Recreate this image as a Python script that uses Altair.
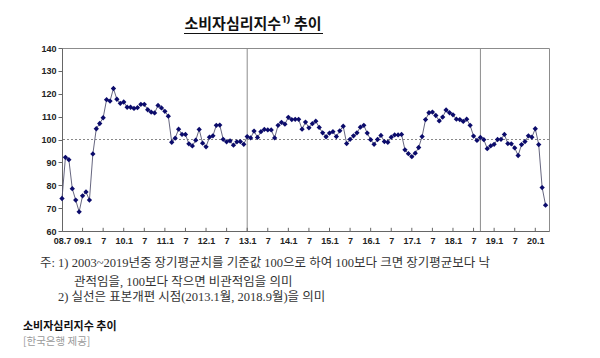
import altair as alt
import pandas as pd

# Monthly consumer sentiment index, 2008.7 ~ 2020.4
values = [
    74.2, 92.2, 91.2, 78.5, 73.5, 68.4,                                   # 2008.7-12
    75.4, 77.1, 73.5, 93.7, 104.7, 107.0, 109.5, 117.4, 116.8, 122.3, 117.6, 115.8,  # 2009
    116.4, 114.1, 114.1, 113.6, 113.9, 115.4, 115.4, 113.0, 112.0, 111.6, 114.9, 113.8,  # 2010
    112.3, 110.2, 98.8, 100.6, 104.5, 102.2, 102.2, 98.1, 97.2, 99.7, 104.4, 98.4,  # 2011
    96.8, 101.0, 101.6, 106.2, 106.3, 100.1, 99.0, 99.4, 97.5, 99.0, 99.1, 97.9,    # 2012
    101.3, 100.7, 103.7, 100.9, 103.4, 104.4, 104.2, 104.2, 100.7, 106.2, 107.5, 106.7,  # 2013
    109.7, 108.7, 108.8, 108.8, 104.5, 107.6, 105.1, 106.9, 108.0, 105.3, 102.9, 101.2,  # 2014
    102.8, 103.4, 101.3, 103.8, 105.8, 98.2, 100.1, 101.6, 102.9, 105.4, 106.2, 102.8,  # 2015
    99.9, 97.9, 100.0, 101.8, 99.1, 98.8, 101.0, 102.0, 102.0, 102.2, 95.5, 93.8,   # 2016
    92.5, 94.0, 96.5, 101.3, 108.7, 111.7, 112.0, 110.5, 108.1, 109.8, 112.9, 111.7,  # 2017
    110.8, 108.9, 108.7, 107.9, 108.9, 106.2, 101.5, 99.6, 100.9, 99.9, 96.0, 97.2,  # 2018
    97.9, 100.0, 100.1, 102.2, 98.2, 98.1, 96.3, 93.0, 97.8, 99.1, 101.6, 101.0,   # 2019
    104.7, 97.8, 79.0, 71.3,                                              # 2020.1-4
]
month_index = list(range(len(values)))

tick_index = list(range(0, 139, 6))
tick_labels = ["08.7", "09.1", "7", "10.1", "7", "11.1", "7", "12.1", "7", "13.1",
               "7", "14.1", "7", "15.1", "7", "16.1", "7", "17.1", "7", "18.1",
               "7", "19.1", "7", "20.1"]
y_ticks = [60, 70, 80, 90, 100, 110, 120, 130, 140]
baseline = [100]
sample_revisions = [54, 122]   # 2013.1, 2018.9

title_text = "소비자심리지수¹⁾ 추이"
note1 = "주: 1) 2003~2019년중 장기평균치를 기준값 100으로 하여 100보다 크면 장기평균보다 낙"
note1b = "관적임을, 100보다 작으면 비관적임을 의미"
note2 = "2) 실선은 표본개편 시점(2013.1월, 2018.9월)을 의미"
caption = "소비자심리지수 추이"
source = "[한국은행 제공]"

W, H = 487, 183
df = pd.DataFrame({"t": month_index, "v": values})
label_expr = "[" + ",".join("'%s'" % s for s in tick_labels) + "][round(datum.value/6)]"

xs = alt.Scale(domain=[0, 142], nice=False, zero=False)
ys = alt.Scale(domain=[60, 140], nice=False, zero=False)
lab = dict(labelFont="Liberation Sans", labelFontWeight="bold", labelFontSize=9, labelColor="#222",
           labelOverlap=False, labelBound=False)
x_axis = alt.Axis(values=tick_index, labelExpr=label_expr, title=None, grid=False, ticks=False,
                  domainColor="#666", labelPadding=5, labelFlush=False, **lab)
y_axis = alt.Axis(values=y_ticks, title=None, grid=False, tickSize=4, tickColor="#666",
                  domainColor="#666", labelPadding=2, **lab)

line = alt.Chart(df).mark_line(color="#555570", strokeWidth=0.9).encode(
    x=alt.X("t:Q", scale=xs, axis=x_axis), y=alt.Y("v:Q", scale=ys, axis=y_axis))
points = alt.Chart(df).mark_point(shape="diamond", filled=True, color="#0b0b6b", size=28, opacity=1).encode(
    x=alt.X("t:Q", scale=xs, axis=x_axis), y=alt.Y("v:Q", scale=ys, axis=y_axis))

ref = alt.Chart(pd.DataFrame({"v": baseline})).mark_rule(color="#888", strokeDash=[2, 2], strokeWidth=1).encode(
    y=alt.Y("v:Q", scale=ys, axis=y_axis))
vlines = alt.Chart(pd.DataFrame({"t": sample_revisions})).mark_rule(color="#8c8c8c", strokeWidth=1).encode(
    x=alt.X("t:Q", scale=xs, axis=x_axis))
inner_ticks = alt.Chart(pd.DataFrame({"t": tick_index[1:], "v": [60] * (len(tick_index) - 1),
                                      "v1": [61.4] * (len(tick_index) - 1)})).mark_rule(
    color="#666", strokeWidth=1).encode(x=alt.X("t:Q", scale=xs, axis=x_axis),
                                        y=alt.Y("v:Q", scale=ys, axis=y_axis), y2="v1:Q")

one = pd.DataFrame({"a": [0]})

def txt(s, x, y, size, color="#333", font="Noto Sans CJK KR", weight="normal", align="left"):
    return alt.Chart(one).mark_text(text=s, font=font, fontSize=size, color=color, fontWeight=weight,
                                    align=align, baseline="middle").encode(x=alt.value(x), y=alt.value(y))

title = txt(title_text, 191, -24, 15, color="#111", weight="bold", align="center")
underline = alt.Chart(one).mark_rule(color="#111", strokeWidth=1).encode(
    x=alt.value(122), x2=alt.value(261), y=alt.value(-14.5))
serif = "Liberation Serif, Noto Sans CJK KR"
n1 = txt(note1, -22, 215, 12.5, font=serif)
n2 = txt(note1b, 12, 234, 12.5, font=serif)
n3 = txt(note2, -4, 249, 12.5, font=serif)
cap = txt(caption, -39, 279, 11, color="#111", weight="bold")
src = txt(source, -39, 294, 10.5, color="#999")

chart = alt.layer(ref, vlines, inner_ticks, line, points, title, underline, n1, n2, n3, cap, src).properties(
    width=W, height=H, autosize="none",
    padding={"left": 54, "top": 40, "right": 43, "bottom": 119},
).configure_view(stroke="#8c8c8c", strokeWidth=1)

chart.save("out.html", embed_options={"renderer": "svg", "actions": False})
